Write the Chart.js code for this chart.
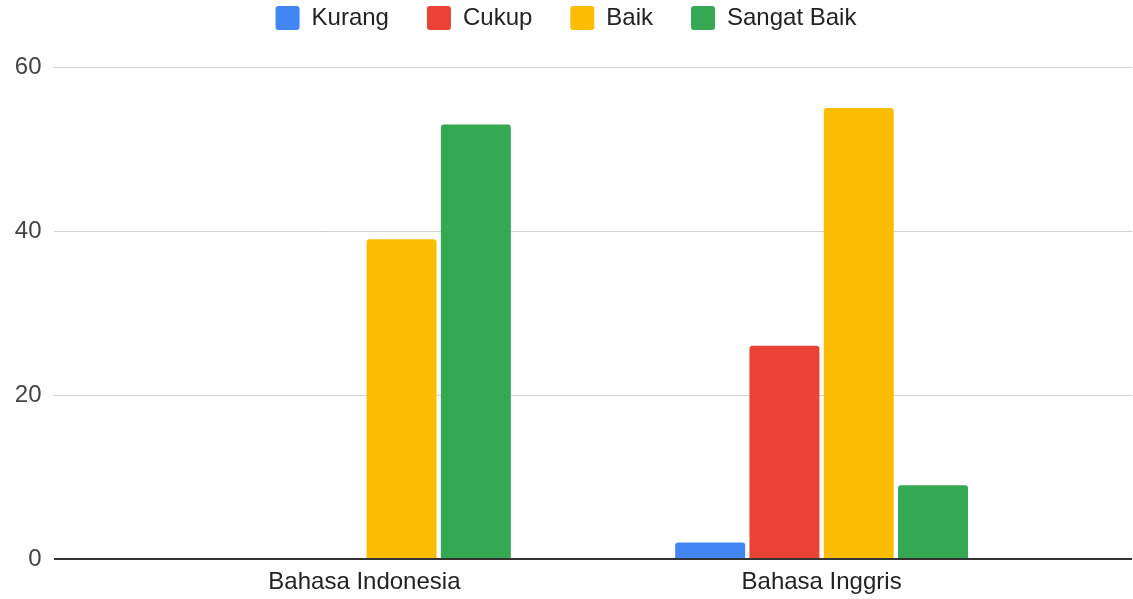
<!DOCTYPE html>
<html>
<head>
<meta charset="utf-8">
<script src="https://cdn.jsdelivr.net/npm/chart.js@4.4.1/dist/chart.umd.min.js"></script>
<style>
  html, body { margin: 0; padding: 0; background: #ffffff; }
  #wrap { width: 1133px; height: 599px; }
</style>
</head>
<body>
<div id="wrap"><canvas id="c" width="1133" height="599"></canvas></div>
<script>
const categories = ['Bahasa Indonesia', 'Bahasa Inggris'];
const seriesNames = ['Kurang', 'Cukup', 'Baik', 'Sangat Baik'];
const kurang = [0, 2];
const cukup = [0, 26];
const baik = [39, 55];
const sangatBaik = [53, 9];
const yTicks = [0, 20, 40, 60];
const colors = ['#4285F4', '#EA4335', '#FBBC04', '#34A853'];

const allSeries = [kurang, cukup, baik, sangatBaik];
const FONT = "'Liberation Sans', Arial, sans-serif";
const LEGEND_PAD = 38;

const legendShift = {
  id: 'legendShift',
  afterLayout(chart) {
    const lg = chart.legend;
    if (!lg) return;
    const h = lg.height;
    lg.top = 6 - LEGEND_PAD;
    lg.bottom = lg.top + h;
  }
};

new Chart(document.getElementById('c'), {
  type: 'bar',
  data: {
    datasets: allSeries.map((arr, s) => ({
      label: seriesNames[s],
      data: arr.map((v, i) => ({ x: i, y: v })),
      backgroundColor: colors[s],
      borderWidth: 0,
      borderRadius: 3,
      categoryPercentage: 0.65,
      barPercentage: 0.942
    }))
  },
  options: {
    responsive: false,
    animation: false,
    layout: { padding: { top: -5, right: 1, left: 0, bottom: 0 } },
    plugins: {
      legend: {
        position: 'top',
        align: 'center',
        labels: {
          font: { family: FONT, size: 24 },
          color: '#222222',
          boxWidth: 24,
          boxHeight: 24,
          padding: LEGEND_PAD,
          useBorderRadius: true,
          borderRadius: 3
        }
      },
      tooltip: { enabled: false }
    },
    scales: {
      x: {
        type: 'linear',
        offset: false,
        min: -0.679,
        max: 1.679,
        grid: { display: false, drawTicks: false, offset: false },
        border: { display: false },
        afterBuildTicks: (scale) => { scale.ticks = categories.map((c, i) => ({ value: i })); },
        afterFit: (scale) => { scale.height = 40; },
        ticks: {
          font: { family: FONT, size: 24 },
          color: '#222222',
          padding: 9,
          maxRotation: 0,
          autoSkip: false,
          callback: (v) => categories[v]
        }
      },
      y: {
        min: 0,
        max: 60,
        afterBuildTicks: (scale) => { scale.ticks = yTicks.map(v => ({ value: v })); },
        afterFit: (scale) => { scale.width = 54; },
        grid: {
          drawTicks: false,
          color: (ctx) => (ctx.tick && ctx.tick.value === 0) ? '#333333' : '#d3d3d3',
          lineWidth: (ctx) => (ctx.tick && ctx.tick.value === 0) ? 2 : 1
        },
        border: { display: false },
        ticks: {
          font: { family: FONT, size: 24 },
          color: '#444444',
          padding: 12.5
        }
      }
    }
  },
  plugins: [legendShift]
});
</script>
</body>
</html>
